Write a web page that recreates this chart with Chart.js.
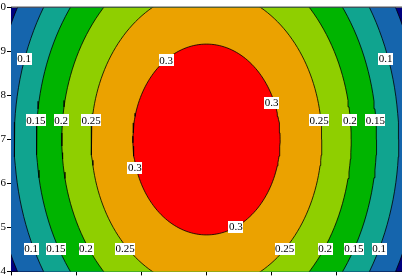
<!DOCTYPE html>
<html>
<head>
<meta charset="utf-8">
<script src="https://cdn.jsdelivr.net/npm/chart.js@4.4.1/dist/chart.umd.min.js"></script>
<style>
  body { margin: 0; background: #fff; }
</style>
</head>
<body>
<canvas id="chart" width="402" height="279"></canvas>
<script>
// contour levels, outermost first
var levels = [0.05, 0.1, 0.15, 0.2, 0.25, 0.3]
// every level is an ellipse round the peak, half widths in x and y units
var centerX = 3
var centerY = 7
var radiusX = [3.3, 2.95, 2.61, 2.22, 1.77, 1.13]
var radiusY = [6.3, 5.66, 5.01, 4.27, 3.40, 2.17]
// colour below the lowest level, then the colour inside each level
var outsideColor = '#000080'
var bandColors = ['#1565ad', '#10a48f', '#00b400', '#8fcf00', '#eba200', '#ff0000']

var xTicks = [0, 1, 2, 3, 4, 5, 6]
var yTicks = [4, 5, 6, 7, 8, 9, 10]

// the little boxed labels sitting on the contour lines
var labelText = ['0.1', '0.1', '0.15', '0.2', '0.25', '0.25', '0.2', '0.15',
                 '0.3', '0.3', '0.3', '0.3',
                 '0.1', '0.15', '0.2', '0.25', '0.25', '0.2', '0.15', '0.1']
var labelX = [0.2, 5.75, 0.38, 0.77, 1.23, 4.73, 5.2, 5.59,
              2.38, 4.0, 1.9, 3.45,
              0.31, 0.69, 1.15, 1.75, 4.2, 4.82, 5.26, 5.65]
var labelY = [8.84, 8.84, 7.44, 7.44, 7.44, 7.44, 7.44, 7.44,
              8.8, 7.84, 6.36, 5.02,
              4.51, 4.51, 4.51, 4.51, 4.51, 4.51, 4.51, 4.51]

var serif = "'Liberation Serif', 'Times New Roman', serif"

function ring(i) {
  var pts = []
  for (var k = 0; k <= 180; k++) {
    var t = k / 180 * 2 * Math.PI
    pts.push({ x: centerX + radiusX[i] * Math.cos(t), y: centerY + radiusY[i] * Math.sin(t) })
  }
  return pts
}

// innermost first, chart.js draws dataset 0 on top
var datasets = []
for (var i = levels.length - 1; i >= 0; i--) {
  datasets.push({
    label: String(levels[i]),
    data: ring(i),
    backgroundColor: bandColors[i],
    borderColor: '#000',
    borderWidth: 0.8,
    pointRadius: 0,
    tension: 0,
    fill: 'shape',
    clip: 0
  })
}

var contourPlugin = {
  id: 'contour',
  beforeDatasetsDraw: function (chart) {
    var a = chart.chartArea
    var ctx = chart.ctx
    ctx.save()
    ctx.fillStyle = outsideColor
    ctx.fillRect(a.left, a.top, a.right - a.left, a.bottom - a.top)
    ctx.restore()
  },
  afterDatasetsDraw: function (chart) {
    var ctx = chart.ctx
    var xs = chart.scales.x
    var ys = chart.scales.y
    ctx.save()
    ctx.font = '11px ' + serif
    ctx.textAlign = 'center'
    ctx.textBaseline = 'middle'
    for (var j = 0; j < labelText.length; j++) {
      var px = xs.getPixelForValue(labelX[j])
      var py = ys.getPixelForValue(labelY[j])
      var w = ctx.measureText(labelText[j]).width + 1
      ctx.fillStyle = '#fff'
      ctx.fillRect(Math.round(px - w / 2), Math.round(py - 6), Math.round(w), 12)
      ctx.fillStyle = '#000'
      ctx.fillText(labelText[j], px, py + 0.5)
    }
    // frame line along the top
    var a = chart.chartArea
    ctx.strokeStyle = '#333'
    ctx.lineWidth = 1
    ctx.beginPath()
    ctx.moveTo(a.left, a.top - 0.5)
    ctx.lineTo(a.right, a.top - 0.5)
    ctx.stroke()
    ctx.restore()
  }
}

var ctx = document.getElementById('chart').getContext('2d')
var myChart = new Chart(ctx, {
  type: 'line',
  data: { datasets: datasets },
  plugins: [contourPlugin],
  options: {
    responsive: false,
    animation: false,
    layout: { padding: { top: 2, right: 0, left: 0, bottom: 0 } },
    plugins: {
      legend: { display: false },
      tooltip: { enabled: false }
    },
    scales: {
      x: {
        type: 'linear',
        min: xTicks[0],
        max: xTicks[xTicks.length - 1],
        z: 1,
        afterBuildTicks: function (scale) {
          scale.ticks = xTicks.map(function (v) { return { value: v } })
        },
        afterFit: function (scale) { scale.height = 7 },
        grid: { drawOnChartArea: false, tickLength: 4, color: '#000' },
        border: { color: '#000', width: 1 },
        ticks: { display: false }
      },
      y: {
        type: 'linear',
        min: yTicks[0],
        max: yTicks[yTicks.length - 1],
        z: 1,
        afterBuildTicks: function (scale) {
          scale.ticks = yTicks.map(function (v) { return { value: v } })
        },
        afterFit: function (scale) { scale.width = 11 },
        grid: { drawOnChartArea: false, tickLength: 4, color: '#000' },
        border: { color: '#000', width: 1 },
        ticks: { color: '#000', padding: 1, font: { family: serif, size: 11 } }
      }
    }
  }
})
</script>
</body>
</html>
